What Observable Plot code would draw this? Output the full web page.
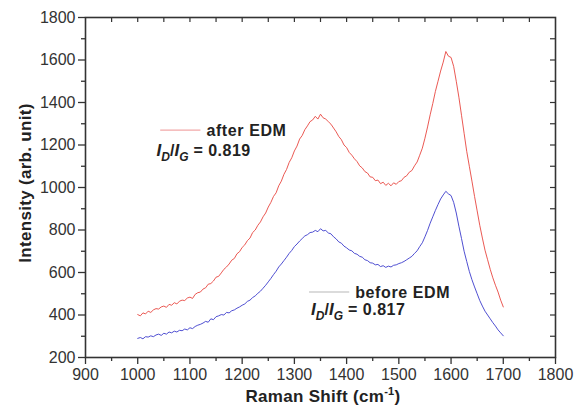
<!DOCTYPE html>
<html><head><meta charset="utf-8">
<script src="https://cdn.jsdelivr.net/npm/d3@7"></script>
<script src="https://cdn.jsdelivr.net/npm/@observablehq/plot@0.6"></script>
<style>
body{margin:0;background:#fff;}
#chart{width:581px;height:410px;}
</style>
</head><body><div id="chart"></div>
<script>
// Raman shift sampling (cm^-1)
const shiftStart = 1000;
const shiftStep = 5;

// after EDM (red)
const afterEDM = [402,396,410,405,418,412,424,430,428,438,442,436,450,446,458,452,465,470,468,480,
484,478,497,505,508,522,528,545,548,560,578,582,598,615,626,640,658,666,688,698,
718,730,750,762,788,800,822,838,862,880,908,930,958,975,1008,1030,1062,1085,1118,1140,
1172,1195,1228,1245,1272,1290,1310,1318,1335,1322,1345,1328,1322,1310,1298,1280,1262,1240,1225,1200,
1188,1165,1152,1135,1122,1102,1092,1075,1068,1050,1048,1032,1035,1018,1025,1010,1020,1008,1022,1015,
1028,1032,1048,1055,1072,1080,1102,1120,1152,1185,1232,1285,1342,1395,1452,1500,1548,1590,1640,1618,
1612,1570,1500,1425,1340,1255,1170,1100,1030,958,890,822,762,705,660,615,575,540,508,470,438];

// before EDM (blue)
const beforeEDM = [290,294,288,298,296,302,298,306,310,304,314,310,320,316,324,320,328,326,334,330,
340,336,346,352,356,362,370,366,382,378,392,396,402,400,412,410,420,424,432,438,
446,452,464,470,482,490,502,512,526,540,556,572,590,606,626,640,656,672,690,704,
722,734,748,760,772,778,788,790,798,792,806,796,798,786,782,768,758,744,738,724,
716,706,702,690,686,676,672,660,656,646,644,636,638,628,632,624,630,626,634,636,
642,646,652,660,668,676,690,702,722,740,768,798,832,862,892,920,946,965,982,970,
962,930,880,818,760,700,652,605,566,532,500,468,442,418,400,382,364,348,330,316,302];

const xMajor = [900,1000,1100,1200,1300,1400,1500,1600,1700,1800];
const xMinor = [950,1050,1150,1250,1350,1450,1550,1650,1750];
const yMajor = [200,400,600,800,1000,1200,1400,1600,1800];
const yMinor = [300,500,700,900,1100,1300,1500,1700];
const xTop = [950,1000,1050,1100,1150,1200,1250,1300,1350,1400,1450,1500,1550,1600,1650,1700,1750];
const yRight = [300,400,500,600,700,800,900,1000,1100,1200,1300,1400,1500,1600,1700];

// legend entries: label, ratio text, anchor position in data units
const legendLabels = ["after EDM", "before EDM"];
const legendRatios = ["0.819", "0.817"];
const legendColors = ["#f2a8a8", "#b8b8b8"];
const legendLineX = [[1044, 1121], [1329, 1406]];
const legendLineY = [1268, 506];
const legendRatioX = [1037, 1333];
const legendRatioY = [1148, 398];

const after = afterEDM.map((v, i) => ({x: shiftStart + i * shiftStep, y: v}));
const before = beforeEDM.map((v, i) => ({x: shiftStart + i * shiftStep, y: v}));

const W = 581, H = 410, mL = 85, mR = 26, mT = 17, mB = 53;
const axisColor = "#333";
const fmt = d => String(d);

const plot = Plot.plot({
  width: W, height: H,
  marginLeft: mL, marginRight: mR, marginTop: mT, marginBottom: mB,
  style: {fontFamily: "'Liberation Sans', Arial, sans-serif", fontSize: "16px", color: "#333", background: "#fff", overflow: "visible"},
  x: {domain: [900, 1800]},
  y: {domain: [200, 1800]},
  marks: [
    Plot.axisX({ticks: xMajor, tickSize: 7, tickPadding: 4, tickFormat: fmt, label: null, stroke: axisColor, strokeWidth: 1.3}),
    Plot.axisX({ticks: xMinor, tickSize: 4, tickFormat: () => "", label: null, stroke: axisColor, strokeWidth: 1.3}),
    Plot.axisY({ticks: yMajor, tickSize: 7, tickPadding: 3, tickFormat: fmt, label: null, stroke: axisColor, strokeWidth: 1.3}),
    Plot.axisY({ticks: yMinor, tickSize: 4, tickFormat: () => "", label: null, stroke: axisColor, strokeWidth: 1.3}),
    Plot.tickX(xTop, {x: d => d, insetBottom: H - mT - mB - 5, stroke: axisColor, strokeWidth: 1.2}),
    Plot.tickY(yRight, {y: d => d, insetLeft: W - mL - mR - 5, stroke: axisColor, strokeWidth: 1.2}),
    Plot.frame({stroke: axisColor, strokeWidth: 1.6}),
    Plot.line(after, {x: "x", y: "y", stroke: "#e8463f", strokeWidth: 0.9}),
    Plot.line(before, {x: "x", y: "y", stroke: "#3b3bcc", strokeWidth: 0.9})
  ]
});
document.getElementById("chart").appendChild(plot);

const svg = d3.select(plot);
const sx = plot.scale("x"), sy = plot.scale("y");
legendLabels.forEach((lab, i) => {
  const x1 = sx.apply(legendLineX[i][0]), x2 = sx.apply(legendLineX[i][1]);
  const yy = sy.apply(legendLineY[i]);
  svg.append("line").attr("x1", x1).attr("x2", x2).attr("y1", yy).attr("y2", yy)
    .attr("stroke", legendColors[i]).attr("stroke-width", 1.2);
  svg.append("text").attr("x", x2 + 6).attr("y", yy + 6).attr("text-anchor", "start")
    .attr("font-size", 16).attr("font-weight", "bold").attr("fill", "#222")
    .attr("letter-spacing", "0.6px").text(lab);
  const t = svg.append("text").attr("x", sx.apply(legendRatioX[i])).attr("y", sy.apply(legendRatioY[i]))
    .attr("text-anchor", "start")
    .attr("font-size", 16).attr("font-weight", "bold").attr("fill", "#222");
  t.append("tspan").attr("font-style", "italic").attr("font-size", 17).text("I");
  t.append("tspan").attr("font-style", "italic").attr("font-size", 12).attr("dy", 5).text("D");
  t.append("tspan").attr("dy", -5).text("/");
  t.append("tspan").attr("font-style", "italic").attr("font-size", 17).text("I");
  t.append("tspan").attr("font-style", "italic").attr("font-size", 12).attr("dy", 5).text("G");
  t.append("tspan").attr("dy", -5).attr("letter-spacing", "0.5px").text(" = " + legendRatios[i]);
});

// axis titles
const xl = svg.append("text").attr("x", 323).attr("y", 402).attr("text-anchor", "middle")
  .attr("font-size", 17).attr("font-weight", "bold").attr("fill", "#222").attr("letter-spacing", "0.3px");
xl.append("tspan").text("Raman Shift (cm");
xl.append("tspan").attr("font-size", 11).attr("dy", -7).text("-1");
xl.append("tspan").attr("dy", 7).text(")");

svg.append("text").attr("transform", "translate(31,183) rotate(-90)").attr("text-anchor", "middle")
  .attr("font-size", 17).attr("font-weight", "bold").attr("fill", "#222").attr("letter-spacing", "0.3px")
  .text("Intensity (arb. unit)");
</script>
</body></html>
